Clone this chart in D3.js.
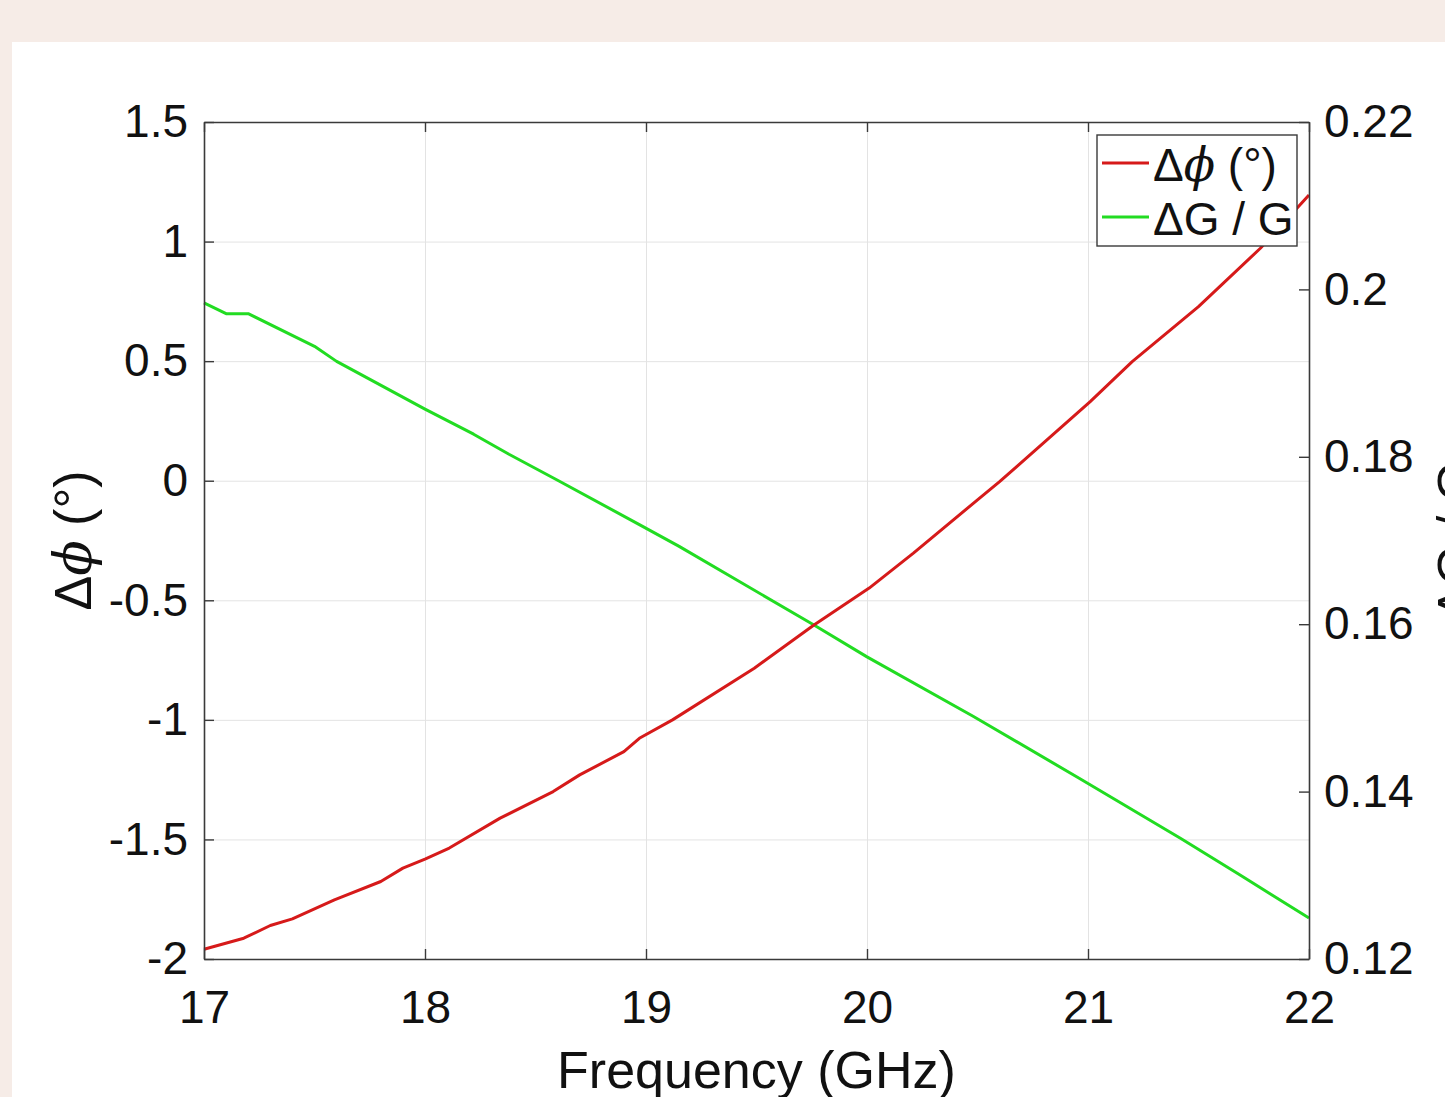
<!DOCTYPE html>
<html>
<head>
<meta charset="utf-8">
<script src="https://cdn.jsdelivr.net/npm/d3@7"></script>
<style>
  body { margin: 0; background: #f6ece7; }
  svg { display: block; }
  text { font-family: "Liberation Sans", Arial, Helvetica, sans-serif; fill: #111; }
</style>
</head>
<body>
<script>
// frequency ticks (GHz) and axis ticks
const freqTicks = [17, 18, 19, 20, 21, 22];
const phaseTicks = [-2, -1.5, -1, -0.5, 0, 0.5, 1, 1.5];
const gainTicks = [0.12, 0.14, 0.16, 0.18, 0.2, 0.22];

// Δφ (°)
const phaseFreq = [17.0, 17.18, 17.3, 17.4, 17.59, 17.8, 17.9, 18.0, 18.11, 18.34, 18.58, 18.7, 18.9, 18.97, 19.12, 19.49, 19.76, 20.01, 20.21, 20.5, 20.6, 21.01, 21.2, 21.5, 21.78, 22.0];
const phaseVals = [-1.959, -1.913, -1.86, -1.832, -1.753, -1.676, -1.62, -1.582, -1.536, -1.411, -1.30, -1.23, -1.133, -1.077, -1.0, -0.784, -0.603, -0.449, -0.303, -0.08, -0.004, 0.331, 0.498, 0.728, 0.972, 1.195];

// ΔG / G
const gainFreq = [17.0, 17.1, 17.2, 17.5, 17.6, 18.0, 18.22, 18.38, 18.6, 18.97, 19.15, 19.76, 20.0, 20.48, 20.96, 21.42, 21.69, 22.0];
const gainVals = [0.1984, 0.1971, 0.1971, 0.1932, 0.1914, 0.1857, 0.1827, 0.1803, 0.1772, 0.1719, 0.1693, 0.1599, 0.1561, 0.1490, 0.1416, 0.1344, 0.1300, 0.1249];

const W = 1445, H = 1097;
const plot = {left: 204, right: 1309, top: 122, bottom: 959};
const axisColor = "#3a3a3a";

const svg = d3.select("body").append("svg")
    .attr("width", W)
    .attr("height", H);

// white figure panel
svg.append("rect")
    .attr("x", 12).attr("y", 42)
    .attr("width", W - 12).attr("height", H - 42)
    .attr("fill", "#ffffff");

const x = d3.scaleLinear().domain([17, 22]).range([plot.left, plot.right]);
const yL = d3.scaleLinear().domain([-2, 1.5]).range([plot.bottom, plot.top]);
const yR = d3.scaleLinear().domain([0.12, 0.22]).range([plot.bottom, plot.top]);

// grid
const grid = svg.append("g");
grid.append("g")
    .attr("transform", `translate(0,${plot.bottom})`)
    .call(d3.axisBottom(x).tickValues(freqTicks).tickSize(-(plot.bottom - plot.top)).tickFormat(""));
grid.append("g")
    .attr("transform", `translate(${plot.left},0)`)
    .call(d3.axisLeft(yL).tickValues(phaseTicks).tickSize(-(plot.right - plot.left)).tickFormat(""));
grid.selectAll(".domain").remove();
grid.selectAll("line").attr("stroke", "#e3e3e3").attr("stroke-width", 1);

// curves
const line = d3.line();
svg.append("path")
    .attr("d", line(gainFreq.map((f, i) => [x(f), yR(gainVals[i])])))
    .attr("fill", "none")
    .attr("stroke", "#22dc22")
    .attr("stroke-width", 3)
    .attr("stroke-linejoin", "round");

svg.append("path")
    .attr("d", line(phaseFreq.map((f, i) => [x(f), yL(phaseVals[i])])))
    .attr("fill", "none")
    .attr("stroke", "#d61a1a")
    .attr("stroke-width", 3)
    .attr("stroke-linejoin", "round");

// axes (ticks pointing inward)
function styleAxis(g) {
    g.selectAll(".domain").attr("stroke", axisColor).attr("stroke-width", 1.6);
    g.selectAll(".tick line").attr("stroke", axisColor).attr("stroke-width", 1.4);
    g.selectAll("text").attr("font-size", 46).attr("fill", "#111")
        .attr("font-family", "'Liberation Sans', Arial, sans-serif");
}

svg.append("g")
    .attr("transform", `translate(0,${plot.bottom})`)
    .call(d3.axisBottom(x).tickValues(freqTicks).tickSizeInner(-10).tickSizeOuter(0).tickPadding(28).tickFormat(d => String(d)))
    .call(styleAxis)
    .selectAll("text").attr("dy", "0.71em").attr("y", 31);

svg.append("g")
    .attr("transform", `translate(0,${plot.top})`)
    .call(d3.axisTop(x).tickValues(freqTicks).tickSizeInner(-10).tickSizeOuter(0).tickFormat(""))
    .call(styleAxis);

svg.append("g")
    .attr("transform", `translate(${plot.left},0)`)
    .call(d3.axisLeft(yL).tickValues(phaseTicks).tickSizeInner(-10).tickSizeOuter(0).tickPadding(16).tickFormat(d => String(d)))
    .call(styleAxis);

svg.append("g")
    .attr("transform", `translate(${plot.right},0)`)
    .call(d3.axisRight(yR).tickValues(gainTicks).tickSizeInner(-10).tickSizeOuter(0).tickPadding(15).tickFormat(d => String(d)))
    .call(styleAxis);

// axis titles
svg.append("text")
    .attr("x", (plot.left + plot.right) / 2)
    .attr("y", 1088)
    .attr("text-anchor", "middle")
    .attr("font-size", 52)
    .text("Frequency (GHz)");

const yTitle = svg.append("text")
    .attr("transform", `translate(91,${(plot.top + plot.bottom) / 2}) rotate(-90)`)
    .attr("text-anchor", "middle")
    .attr("font-size", 52);
yTitle.append("tspan").text("Δ");
yTitle.append("tspan").attr("font-style", "italic").attr("font-family", "'DejaVu Serif', serif").text("ϕ");
yTitle.append("tspan").text(" (°)");

svg.append("text")
    .attr("transform", `translate(1474,${(plot.top + plot.bottom) / 2}) rotate(-90)`)
    .attr("text-anchor", "middle")
    .attr("font-size", 52)
    .text("ΔG / G");

// legend
const legend = svg.append("g");
legend.append("rect")
    .attr("x", 1097).attr("y", 135)
    .attr("width", 200).attr("height", 111)
    .attr("fill", "#ffffff")
    .attr("stroke", axisColor)
    .attr("stroke-width", 1.4);

const legendItems = [
    {color: "#d61a1a", y: 163},
    {color: "#22dc22", y: 217}
];
legendItems.forEach(d => {
    legend.append("line")
        .attr("x1", 1102).attr("x2", 1149)
        .attr("y1", d.y).attr("y2", d.y)
        .attr("stroke", d.color)
        .attr("stroke-width", 3);
});

const t1 = legend.append("text")
    .attr("x", 1153).attr("y", 181)
    .attr("font-size", 46);
t1.append("tspan").text("Δ");
t1.append("tspan").attr("font-style", "italic").attr("font-family", "'DejaVu Serif', serif").text("ϕ");
t1.append("tspan").text(" (°)");

legend.append("text")
    .attr("x", 1153).attr("y", 235)
    .attr("font-size", 46)
    .text("ΔG / G");
</script>
</body>
</html>
